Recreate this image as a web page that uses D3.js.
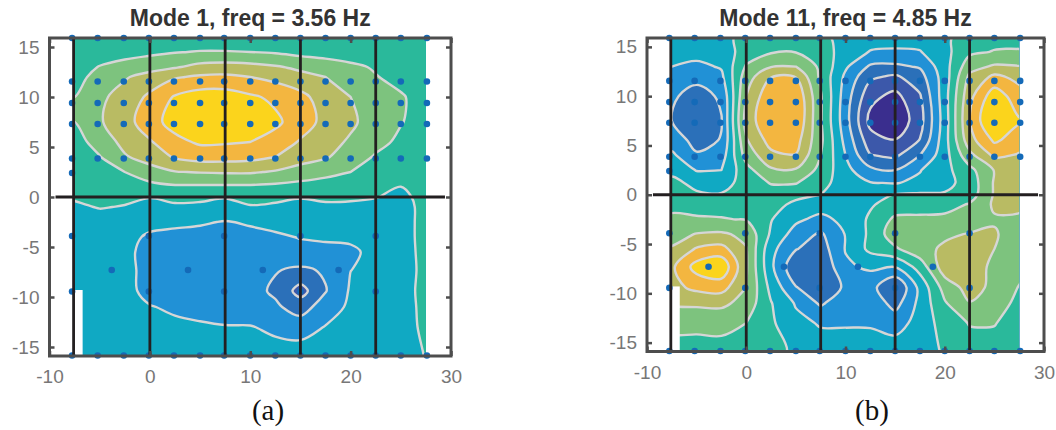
<!DOCTYPE html>
<html>
<head>
<meta charset="utf-8">
<style>
  html, body { margin: 0; padding: 0; background: #fff; }
  svg { display: block; }
  .tick-label { font-family: 'Liberation Sans', sans-serif; font-size: 19px; fill: #777; }
</style>
<script src="https://cdn.jsdelivr.net/npm/d3@7"></script>
</head>
<body>
<svg id="chart" width="1056" height="430"></svg>
<script>
// grid the modes are read on
const gridX = [-7.5, -5, -2.5, 0, 2.5, 5, 7.5, 10, 12.5, 15, 17.5, 20, 22.5, 25, 27.5]
const gridY = [15.9, 14.5, 13, 12, 10, 7.5, 5.5, 4, 2.5, 1.2, 0, -1, -2.5, -4, -5.5, -7.3, -9.4, -11, -13, -15.9]

// one row per gridY (1 unit = one colour band)
const mode1 = [
  [5.4, 5.4, 5.4, 5.4, 5.4, 5.4, 5.4, 5.4, 5.4, 5.4, 5.4, 5.4, 5.4, 5.4, 5.4],
  [5.35, 5.45, 5.6, 5.8, 5.95, 6.05, 6.05, 6.0, 5.9, 5.7, 5.6, 5.5, 5.45, 5.4, 5.4],
  [5.5, 6.05, 6.4, 6.6, 6.9, 7.3, 7.4, 7.3, 7.1, 6.8, 6.5, 6.2, 5.9, 5.5, 5.4],
  [5.7, 6.3, 6.9, 7.4, 7.9, 8.15, 8.2, 8.0, 7.7, 7.3, 7.0, 6.5, 6.05, 5.7, 5.4],
  [6.0, 6.8, 7.4, 8.2, 9.1, 9.5, 9.5, 9.15, 8.8, 8.3, 7.5, 7.0, 6.5, 6.1, 5.6],
  [6.0, 6.9, 7.6, 8.6, 9.4, 9.7, 9.7, 9.5, 9.2, 8.5, 7.7, 7.2, 6.5, 6.05, 5.6],
  [5.6, 6.4, 7.3, 7.9, 8.7, 9.15, 9.1, 9.0, 8.6, 7.9, 7.4, 6.85, 6.3, 5.8, 5.5],
  [5.3, 5.95, 6.9, 7.4, 8.1, 8.4, 8.4, 8.3, 8.0, 7.4, 7.1, 6.5, 5.9, 5.5, 5.4],
  [5.3, 5.5, 6.0, 6.6, 6.95, 7.05, 7.1, 7.1, 6.9, 6.6, 6.3, 6.0, 5.6, 5.4, 5.3],
  [5.2, 5.3, 5.5, 5.8, 6.0, 6.0, 6.0, 6.0, 5.9, 5.75, 5.6, 5.5, 5.35, 5.05, 5.3],
  [5.1, 5.3, 5.2, 5.05, 5.15, 5.15, 5.05, 5.2, 5.2, 5.05, 5.15, 5.15, 5.05, 4.7, 5.4],
  [4.85, 5.05, 4.95, 4.6, 4.9, 4.85, 4.7, 4.95, 4.85, 4.7, 4.85, 4.8, 4.6, 4.5, 5.4],
  [4.7, 4.6, 4.5, 4.3, 4.15, 4.1, 3.95, 4.1, 4.3, 4.4, 4.5, 4.55, 4.5, 4.5, 5.4],
  [4.65, 4.5, 4.3, 3.85, 3.8, 3.7, 3.6, 3.75, 3.85, 4.05, 4.15, 4.1, 4.2, 4.5, 5.4],
  [4.6, 4.4, 4.25, 3.65, 3.55, 3.5, 3.45, 3.5, 3.6, 3.65, 3.7, 3.9, 4.15, 4.5, 5.35],
  [4.6, 4.4, 4.3, 3.65, 3.4, 3.4, 3.4, 3.3, 3.05, 2.85, 3.1, 3.99, 4.2, 4.5, 5.3],
  [4.6, 4.45, 4.3, 3.7, 3.5, 3.45, 3.4, 3.3, 2.85, 1.6, 2.95, 4.12, 4.3, 4.6, 5.3],
  [4.6, 4.5, 4.3, 4.05, 3.85, 3.7, 3.55, 3.4, 3.15, 2.6, 3.45, 4.2, 4.4, 4.6, 5.25],
  [4.6, 4.55, 4.45, 4.3, 4.2, 4.12, 4.05, 4.05, 3.8, 3.5, 4.05, 4.4, 4.5, 4.6, 5.2],
  [4.5, 4.5, 4.5, 4.5, 4.5, 4.5, 4.5, 4.5, 4.4, 4.6, 4.5, 4.5, 4.5, 4.45, 5.05]
]

const mode11 = [
  [4.6, 4.6, 4.7, 5.3, 5.5, 5.5, 5.3, 4.6, 4.4, 4.3, 4.4, 4.8, 5.5, 5.7, 5.8],
  [4.4, 4.4, 4.5, 5.4, 5.9, 5.95, 5.4, 4.65, 3.95, 3.9, 3.95, 4.7, 5.8, 6.05, 6.05],
  [4.0, 3.75, 4.1, 6.1, 6.95, 7.0, 5.8, 4.15, 2.85, 2.8, 3.1, 4.6, 6.6, 7.15, 7.05],
  [3.6, 3.3, 3.8, 6.5, 7.95, 7.95, 5.8, 3.8, 2.2, 1.85, 2.6, 4.5, 7.2, 8.2, 7.7],
  [3.15, 2.6, 3.15, 7.0, 8.8, 8.85, 6.1, 3.5, 1.3, 0.7, 1.9, 4.6, 7.7, 9.6, 8.4],
  [3.0, 2.55, 2.95, 7.4, 8.95, 8.95, 6.1, 3.4, 0.7, 0.2, 1.6, 4.5, 8.0, 10.3, 9.1],
  [3.5, 2.7, 3.05, 6.9, 8.4, 8.4, 6.2, 3.7, 1.4, 1.05, 2.05, 4.6, 7.6, 9.15, 8.5],
  [4.2, 3.1, 3.5, 6.4, 7.75, 7.95, 6.0, 4.0, 2.05, 1.8, 3.0, 4.6, 6.7, 8.2, 7.9],
  [4.7, 3.95, 4.0, 5.65, 6.85, 6.9, 5.7, 4.3, 3.25, 3.0, 3.95, 4.7, 5.7, 7.05, 7.3],
  [5.3, 4.7, 4.5, 5.5, 6.05, 6.05, 5.3, 4.55, 4.05, 3.95, 4.2, 4.7, 5.4, 7.1, 7.3],
  [5.6, 5.15, 5.1, 5.4, 5.6, 5.3, 5.0, 4.6, 4.6, 5.05, 5.15, 5.1, 5.5, 7.1, 7.3],
  [5.8, 5.7, 5.7, 5.6, 5.4, 4.75, 4.5, 4.5, 4.9, 5.4, 5.45, 5.55, 6.1, 7.15, 7.2],
  [6.15, 6.1, 6.05, 5.95, 5.05, 4.2, 3.7, 4.3, 5.15, 6.2, 6.25, 6.3, 6.5, 6.9, 6.85],
  [6.6, 7.05, 7.15, 6.75, 4.85, 3.55, 2.85, 4.05, 5.2, 6.6, 6.65, 6.85, 7.05, 7.1, 6.5],
  [7.1, 8.1, 8.35, 7.05, 4.3, 3.05, 2.5, 4.05, 5.25, 5.85, 6.7, 7.15, 7.25, 7.0, 6.4],
  [7.8, 9.4, 9.8, 7.1, 4.2, 2.2, 2.1, 3.85, 4.15, 4.05, 5.4, 7.6, 7.45, 6.8, 6.35],
  [7.7, 8.25, 8.4, 7.0, 4.7, 3.05, 2.3, 3.15, 3.4, 1.9, 4.3, 6.4, 7.4, 6.75, 5.95],
  [7.15, 7.2, 7.25, 6.6, 5.05, 3.9, 2.85, 3.7, 3.75, 2.6, 4.3, 5.9, 6.95, 6.45, 5.75],
  [6.2, 6.2, 6.25, 6.0, 5.15, 4.3, 3.9, 3.9, 3.9, 3.65, 4.3, 5.5, 6.05, 6.05, 5.55],
  [5.7, 5.7, 5.7, 5.65, 5.45, 4.75, 4.5, 4.5, 4.45, 4.45, 4.6, 5.1, 5.6, 5.6, 5.5]
]

const levels = [1, 2, 3, 4, 5, 6, 7, 8, 9]
const bandColors = ['#3a2e8e', '#3c58aa', '#2b70b9', '#2191d6', '#10a9c3', '#2ab99b', '#7dc37e', '#b9bb63', '#f3b640', '#fbd41c']

// sensor rows
const sensorX = [-7.75, -5.2, -2.6, -0.1, 2.4, 5, 7.4, 10, 12.5, 15, 17.5, 20, 22.5, 25, 27.6]
const sensorRowsUpper = [15.9, 11.55, 9.4, 7.3, 3.85, -15.85]
const sensorExtra = [[-7.75, 2.4]]
const sensorMidX = [-7.75, -0.1, 7.4, 15, 22.5]
const sensorMidY = [-3.9, -9.45]
const sensorOffX = [-3.8, 3.8, 11.25, 18.8]
const sensorOffY = [-7.3]

const sectionLines = [-7.6, 0, 7.5, 15, 22.5]
const xTicks = [-10, 0, 10, 20, 30]
const yTicks = [-15, -10, -5, 0, 5, 10, 15]

const panels = [
  { title: 'Mode 1, freq = 3.56 Hz', caption: '(a)', captionX: 268, values: mode1, left: 49.5, right: 451, top: 38, bottom: 356 },
  { title: 'Mode 11, freq = 4.85 Hz', caption: '(b)', captionX: 872, values: mode11, left: 647, right: 1044, top: 38, bottom: 351.5 }
]

const svg = d3.select('#chart')

panels.forEach(drawPanel)

function drawPanel(p, i) {
  const x = d3.scaleLinear().domain([-10, 30]).range([p.left, p.right])
  const y = d3.scaleLinear().domain([-15.9, 15.9]).range([p.bottom, p.top])

  const holder = svg.append('g')

  // d3.contours puts a value at index + 0.5, map those back on the uneven grid.
  // The rim lands outside the data area and gets clipped away.
  const colAt = d3.scaleLinear().domain(gridX.map((d, k) => k + 0.5)).range(gridX)
  const rowAt = d3.scaleLinear().domain(gridY.map((d, k) => k + 0.5)).range(gridY)
  const ringLine = d3.line()
    .x(d => x(colAt(d[0])))
    .y(d => y(rowAt(d[1])))
    .curve(d3.curveCatmullRomClosed.alpha(0.5))
  const ringsPath = d => d.coordinates
    .flatMap(polygon => polygon.map(ring => ringLine(ring.slice(0, -1))))
    .join('')

  const contours = d3.contours()
    .size([gridX.length, gridY.length])
    .smooth(true)
    .thresholds(levels)(p.values.flat())

  const clipId = `data-${i}`
  holder.append('clipPath')
    .attr('id', clipId)
    .append('rect')
    .attr('x', x(gridX[0]))
    .attr('y', y(gridY[0]))
    .attr('width', x(gridX[gridX.length - 1]) - x(gridX[0]))
    .attr('height', y(gridY[gridY.length - 1]) - y(gridY[0]))

  const field = holder.append('g').attr('clip-path', `url(#${clipId})`)

  field.append('rect')
    .attr('x', p.left)
    .attr('y', p.top)
    .attr('width', p.right - p.left)
    .attr('height', p.bottom - p.top)
    .attr('fill', bandColors[0])

  field.selectAll('.band')
    .data(contours)
    .enter()
    .append('path')
    .attr('class', 'band')
    .attr('d', ringsPath)
    .attr('fill-rule', 'evenodd')
    .attr('fill', (d, k) => bandColors[k + 1])

  field.selectAll('.contour')
    .data(contours)
    .enter()
    .append('path')
    .attr('class', 'contour')
    .attr('d', ringsPath)
    .attr('fill', 'none')
    .attr('stroke', '#d6d6d6')
    .attr('stroke-width', 2.4)
    .attr('stroke-linejoin', 'round')

  // nothing was measured in the lower left corner
  holder.append('rect')
    .attr('x', x(-7.6))
    .attr('y', y(-9.3))
    .attr('width', x(-6.7) - x(-7.6))
    .attr('height', p.bottom - y(-9.3))
    .attr('fill', '#fff')

  // sensors
  const sensors = []
  sensorRowsUpper.forEach(sy => sensorX.forEach(sx => sensors.push([sx, sy])))
  sensorMidY.forEach(sy => sensorMidX.forEach(sx => sensors.push([sx, sy])))
  sensorOffY.forEach(sy => sensorOffX.forEach(sx => sensors.push([sx, sy])))
  sensorExtra.forEach(d => sensors.push(d))

  holder.selectAll('.sensor')
    .data(sensors)
    .enter()
    .append('circle')
    .attr('class', 'sensor')
    .attr('cx', d => x(d[0]))
    .attr('cy', d => y(d[1]))
    .attr('r', 3.3)
    .attr('fill', '#146ab8')

  // black section lines
  holder.selectAll('.section')
    .data(sectionLines)
    .enter()
    .append('line')
    .attr('class', 'section')
    .attr('x1', d => x(d))
    .attr('x2', d => x(d))
    .attr('y1', p.top)
    .attr('y2', p.bottom)
    .attr('stroke', '#231f20')
    .attr('stroke-width', 2.8)

  holder.append('line')
    .attr('x1', x(-9.4))
    .attr('x2', x(29.4))
    .attr('y1', y(0))
    .attr('y2', y(0))
    .attr('stroke', '#231f20')
    .attr('stroke-width', 2.8)

  // axes on all four sides, ticks pointing in
  const axes = [
    { axis: d3.axisBottom(x).tickValues(xTicks), at: `translate(0,${p.bottom})`, labels: true, pad: 14 },
    { axis: d3.axisTop(x).tickValues(xTicks), at: `translate(0,${p.top})`, labels: false, pad: 0 },
    { axis: d3.axisLeft(y).tickValues(yTicks), at: `translate(${p.left},0)`, labels: true, pad: 10 },
    { axis: d3.axisRight(y).tickValues(yTicks), at: `translate(${p.right},0)`, labels: false, pad: 0 }
  ]
  axes.forEach(a => {
    const g = holder.append('g')
      .attr('transform', a.at)
      .call(a.axis.tickSizeInner(-5).tickSizeOuter(0).tickPadding(a.pad).tickFormat(d => d))
    g.select('.domain').attr('stroke', 'none')
    g.selectAll('.tick line').attr('stroke', '#4d4d4d').attr('stroke-width', 2.5)
    g.selectAll('.tick text')
      .attr('class', 'tick-label')
      .text(d => (a.labels ? d : ''))
  })

  holder.append('rect')
    .attr('x', p.left)
    .attr('y', p.top)
    .attr('width', p.right - p.left)
    .attr('height', p.bottom - p.top)
    .attr('fill', 'none')
    .attr('stroke', '#4d4d4d')
    .attr('stroke-width', 3)

  holder.append('text')
    .attr('x', (p.left + p.right) / 2)
    .attr('y', 26)
    .attr('text-anchor', 'middle')
    .attr('font-family', "'Liberation Sans', sans-serif")
    .attr('font-weight', 'bold')
    .attr('font-size', 23)
    .attr('fill', '#333')
    .text(p.title)

  holder.append('text')
    .attr('x', p.captionX)
    .attr('y', 420)
    .attr('text-anchor', 'middle')
    .attr('font-family', "'Liberation Serif', serif")
    .attr('font-size', 29)
    .attr('fill', '#111')
    .text(p.caption)
}
</script>
</body>
</html>
